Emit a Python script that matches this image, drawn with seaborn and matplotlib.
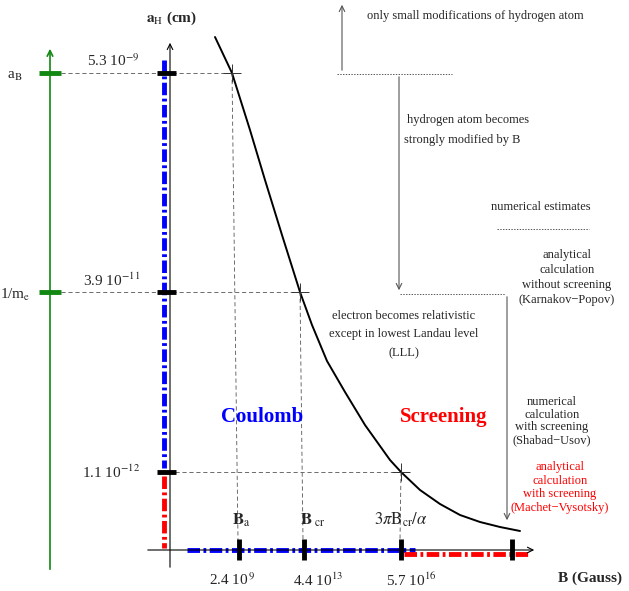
import matplotlib
matplotlib.use("Agg")
import matplotlib.pyplot as plt
import seaborn as sns

# schematic positions (picture units, y grows downwards)
curve_x = [215, 232, 250, 265, 282, 300, 312, 327, 345, 365, 390, 401, 420, 440, 460, 480, 500, 520]
curve_y = [37, 73, 130, 180, 235, 292, 325, 361, 392, 425, 460, 472, 490, 504, 515, 522, 527, 531]

a_labels = [r"5.3 10$^{-9}$", r"3.9 10$^{-11}$", r"1.1 10$^{-12}$"]
a_pos = [73, 292, 472]
a_cross_x = [232, 300, 401]

b_labels = [r"2.4 10$^{\,9}$", r"4.4 10$^{13}$", r"5.7 10$^{16}$"]
b_label_x = [232, 318, 411]
b_names = [r"$\mathbf{B}_{\rm a}$", r"$\mathbf{B}_{\ \rm cr}$", r"$3\pi\mathrm{B}_{\rm cr}/\alpha$"]
b_name_x = [241, 313, 401]
b_pos = [239, 304, 401, 512]

sns.set_style("white")
plt.rcParams["font.family"] = ["Liberation Serif", "DejaVu Serif"]
plt.rcParams["mathtext.fontset"] = "stix"
plt.rcParams["lines.scale_dashes"] = False

fig = plt.figure(figsize=(6.29, 5.91), dpi=100)
ax = fig.add_axes([0, 0, 1, 1])
ax.set_xlim(0, 629)
ax.set_ylim(591, 0)
ax.axis("off")

grey = "#555555"
blue = "#0000ff"
red = "#ff0000"
green = "#118811"
dd = (0, (9, 2.5, 2, 2.5))
fs = 9

# green scale on the left
ax.annotate("", xy=(50, 46), xytext=(50, 572),
            arrowprops=dict(arrowstyle="->", color=green, lw=1.2))
for y in a_pos[:2]:
    ax.plot([39, 61], [y, y], color=green, lw=3.5, solid_capstyle="butt")
ax.text(22, 76, r"a$_{\rm B}$", ha="right", va="center", fontsize=11)
ax.text(30, 295, r"1/m$_{\rm e}$", ha="right", va="center", fontsize=11)

# main axes
ax.annotate("", xy=(170, 40), xytext=(170, 570),
            arrowprops=dict(arrowstyle="->", color="black", lw=0.8))
ax.annotate("", xy=(537, 550), xytext=(145, 550),
            arrowprops=dict(arrowstyle="->", color="black", lw=0.8))
ax.text(172, 18, r"$\mathbf{a}_{\rm H}$ (cm)", ha="center", va="center",
        fontsize=11, fontweight="bold")
ax.text(622, 578, "B (Gauss)", ha="right", va="center", fontsize=11, fontweight="bold")

# coloured regions along the axes
ax.plot([164, 164], [60, 468], color=blue, lw=3.5, linestyle=dd)
ax.plot([164, 164], [476, 548], color=red, lw=3.5, linestyle=dd)
ax.plot([187, 415], [550, 550], color=blue, lw=3.5, linestyle=dd)
ax.plot([404, 530], [554, 554], color=red, lw=3.5, linestyle=dd)

# dashed guide lines
ax.plot([61, a_cross_x[0]], [a_pos[0], a_pos[0]], color=grey, lw=0.6, linestyle=(0, (3, 2)))
ax.plot([61, a_cross_x[1]], [a_pos[1], a_pos[1]], color=grey, lw=0.6, linestyle=(0, (3, 2)))
ax.plot([175, a_cross_x[2]], [a_pos[2], a_pos[2]], color=grey, lw=0.6, linestyle=(0, (3, 2)))
for cx, bx, cy in zip(a_cross_x, b_pos, a_pos):
    ax.plot([cx, bx - 1], [cy, 540], color=grey, lw=0.6, linestyle=(0, (3, 2)))

# thick ticks
for y, lab in zip(a_pos, a_labels):
    ax.plot([157, 176], [y, y], color="black", lw=3.5, solid_capstyle="butt")
    ax.text(140, y - 12 if y < 400 else y, lab, ha="right", va="center", fontsize=11)
for x in b_pos:
    ax.plot([x, x], [539, 560], color="black", lw=3.5, solid_capstyle="butt")
for x, lab in zip(b_label_x, b_labels):
    ax.text(x, 580, lab, ha="center", va="center", fontsize=11)
for x, lab in zip(b_name_x, b_names):
    ax.text(x, 520, lab, ha="center", va="center", fontsize=12)

# the curve a_H(B)
sns.lineplot(x=curve_x, y=curve_y, color="black", lw=1.4, sort=False, ax=ax)
ax.plot(a_cross_x, a_pos, linestyle="none", marker="+", ms=13, mew=0.7, color="#333333")

# regions
ax.text(262, 417, "Coulomb", color=blue, fontsize=15, fontweight="bold", ha="center", va="center")
ax.text(444, 417, "Screening", color=red, fontsize=15, fontweight="bold", ha="center", va="center")

# right hand annotations
ax.annotate("", xy=(342, 2), xytext=(342, 73),
            arrowprops=dict(arrowstyle="->", color=grey, lw=0.8))
ax.plot([337, 452], [74, 74], color=grey, lw=0.7, linestyle=(0, (1, 1)))
ax.text(475, 16, "only small modifications of hydrogen atom", ha="center", va="center", fontsize=fs)

ax.annotate("", xy=(399, 293), xytext=(399, 74),
            arrowprops=dict(arrowstyle="->", color=grey, lw=0.8))
ax.text(468, 120, "hydrogen atom becomes", ha="center", va="center", fontsize=fs)
ax.text(462, 140, "strongly modified by B", ha="center", va="center", fontsize=fs)
ax.plot([400, 505], [294, 294], color=grey, lw=0.7, linestyle=(0, (1, 1)))

ax.text(541, 207, "numerical estimates", ha="center", va="center", fontsize=fs)
ax.plot([497, 589], [229, 229], color=grey, lw=0.7, linestyle=(0, (1, 1)))
for i, line in enumerate(["analytical", "calculation", "without screening", "(Karnakov\u2212Popov)"]):
    ax.text(567, 255 + 15 * i, line, ha="center", va="center", fontsize=fs)

ax.annotate("", xy=(507, 523), xytext=(507, 294),
            arrowprops=dict(arrowstyle="->", color=grey, lw=0.8))
for i, line in enumerate(["electron becomes relativistic", "except in lowest Landau level", "(LLL)"]):
    ax.text(404, 316 + 18.5 * i, line, ha="center", va="center", fontsize=fs)

for i, line in enumerate(["numerical", "calculation", "with screening", "(Shabad\u2212Usov)"]):
    ax.text(552, 402 + 12.7 * i, line, ha="center", va="center", fontsize=fs)
for i, line in enumerate(["analytical", "calculation", "with screening", "(Machet\u2212Vysotsky)"]):
    ax.text(560, 467 + 13.5 * i, line, ha="center", va="center", fontsize=fs, color=red)

fig.savefig("out.png", dpi=100)
